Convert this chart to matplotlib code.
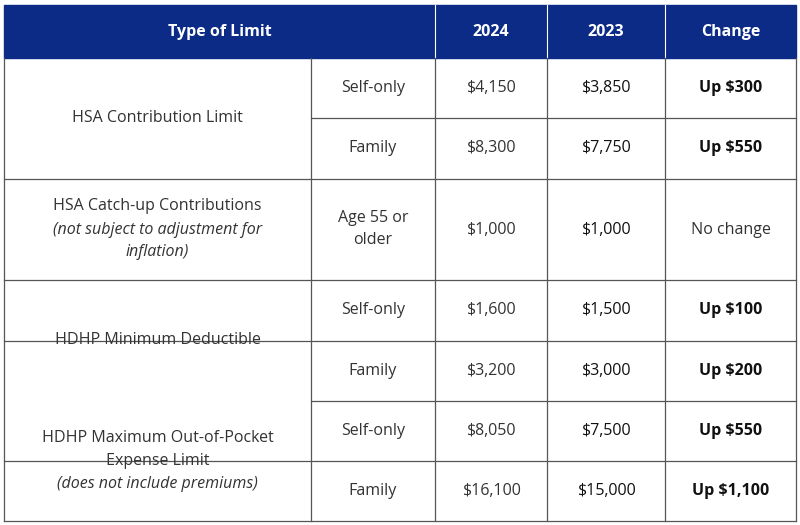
import matplotlib
matplotlib.use("Agg")
import matplotlib.pyplot as plt
from matplotlib.patches import Rectangle

limit_types = ["HSA Contribution Limit",
               "HSA Catch-up Contributions",
               "HDHP Minimum Deductible",
               "HDHP Maximum Out-of-Pocket\nExpense Limit"]
limit_notes = ["", "(not subject to adjustment for\ninflation)", "", "(does not include premiums)"]
coverage = ["Self-only", "Family", "Age 55 or\nolder", "Self-only", "Family", "Self-only", "Family"]
vals_2024 = ["$4,150", "$8,300", "$1,000", "$1,600", "$3,200", "$8,050", "$16,100"]
vals_2023 = ["$3,850", "$7,750", "$1,000", "$1,500", "$3,000", "$7,500", "$15,000"]
changes = ["Up $300", "Up $550", "No change", "Up $100", "Up $200", "Up $550", "Up $1,100"]
group_rows = [[0, 1], [2], [3, 4], [5, 6]]

NAVY = "#0b2b86"
TXT = "#333333"
FONT = "Open Sans"
FS = 11.5

fig = plt.figure(figsize=(8, 5.25), dpi=100)
ax = fig.add_axes([0, 0, 1, 1])
ax.set_xlim(0, 800); ax.set_ylim(525, 0); ax.axis("off")

xs = [4, 311, 435, 547, 665, 796]
row_y = [58, 118, 179, 280, 341, 401, 461, 521]

# header
ax.add_patch(Rectangle((xs[0], 5), xs[-1] - xs[0], 53, color=NAVY))
for x in xs[2:-1]:
    ax.plot([x, x], [5, 58], color="white", lw=0.8)
hdr = [("Type of Limit", (xs[0] + xs[2]) / 2), ("2024", (xs[2] + xs[3]) / 2),
       ("2023", (xs[3] + xs[4]) / 2), ("Change", (xs[4] + xs[5]) / 2)]
for t, cx in hdr:
    ax.text(cx, 31.5, t, color="white", ha="center", va="center",
            fontsize=FS, fontweight="bold", family=FONT)

lc = "#555555"
# grid
for x in xs:
    ax.plot([x, x], [58, 521], color=lc, lw=0.9)
ax.plot([xs[0], xs[-1]], [521, 521], color=lc, lw=0.9)
for i, y in enumerate(row_y[1:-1], start=1):
    start = xs[1] if i in (1, 5) else xs[0]
    ax.plot([start, xs[-1]], [y, y], color=lc, lw=0.9)

for g, rows in enumerate(group_rows):
    top, bot = row_y[rows[0]], row_y[rows[-1] + 1]
    cy = (top + bot) / 2
    cx = (xs[0] + xs[1]) / 2
    if limit_notes[g]:
        nl = limit_types[g].count("\n") + 1
        nn = limit_notes[g].count("\n") + 1
        lh = 23
        total = (nl + nn) * lh
        y0 = cy - total / 2 + lh / 2
        for k, line in enumerate(limit_types[g].split("\n")):
            ax.text(cx, y0 + k * lh, line, ha="center", va="center", fontsize=FS, color=TXT, family=FONT)
        for k, line in enumerate(limit_notes[g].split("\n")):
            ax.text(cx, y0 + (nl + k) * lh, line, ha="center", va="center", fontsize=FS,
                    color=TXT, family=FONT, style="italic")
    else:
        ax.text(cx, cy, limit_types[g], ha="center", va="center", fontsize=FS, color=TXT, family=FONT)

for i in range(len(coverage)):
    cy = (row_y[i] + row_y[i + 1]) / 2
    ax.text((xs[1] + xs[2]) / 2, cy, coverage[i], ha="center", va="center", fontsize=FS,
            color=TXT, family=FONT, linespacing=1.5)
    ax.text((xs[2] + xs[3]) / 2, cy, vals_2024[i], ha="center", va="center", fontsize=FS, color=TXT, family=FONT)
    ax.text((xs[3] + xs[4]) / 2, cy, vals_2023[i], ha="center", va="center", fontsize=FS, color="#111111", family=FONT)
    bold = changes[i] != "No change"
    ax.text((xs[4] + xs[5]) / 2, cy, changes[i], ha="center", va="center", fontsize=FS,
            color="#111111" if bold else TXT, family=FONT, fontweight="bold" if bold else "normal")

fig.savefig("out.png", dpi=100, facecolor="white")
